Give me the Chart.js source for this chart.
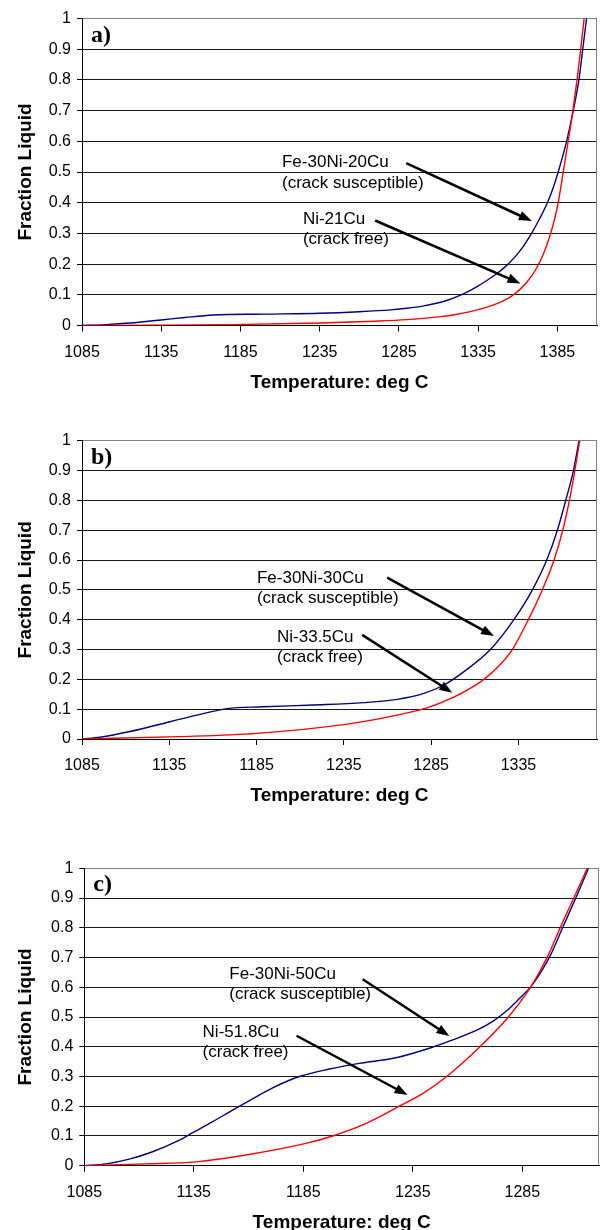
<!DOCTYPE html>
<html><head><meta charset="utf-8">
<script src="https://cdn.jsdelivr.net/npm/chart.js@4/dist/chart.umd.min.js"></script>
<style>
html,body{margin:0;padding:0;background:#fff;overflow:hidden;width:600px;height:1230px;position:relative;}
.panel{position:absolute;left:0;width:600px;}
canvas{display:block;}
</style></head><body>
<div class="panel" style="top:0px"><canvas id="ca" width="600" height="394"></canvas></div>
<div class="panel" style="top:410px"><canvas id="cb" width="600" height="397"></canvas></div>
<div class="panel" style="top:820px"><canvas id="cc" width="600" height="414"></canvas></div>
<script>
// ---------- data ----------
const yTickValues = [0, 0.1, 0.2, 0.3, 0.4, 0.5, 0.6, 0.7, 0.8, 0.9, 1];
const xTicksA = [1085, 1135, 1185, 1235, 1285, 1335, 1385];
const xTicksB = [1085, 1135, 1185, 1235, 1285, 1335];
const xTicksC = [1085, 1135, 1185, 1235, 1285];

// panel a
const tempFeA = [1085, 1100, 1115, 1135, 1150, 1168, 1200, 1235, 1260, 1280, 1290, 1300, 1310, 1316, 1322, 1328, 1334, 1340, 1346, 1352, 1358, 1363.5, 1368.7, 1374, 1378.7, 1382.3, 1385.5, 1390.8, 1395, 1398.6, 1401, 1403.4];
const fracFeA = [0, 0.003, 0.008, 0.018, 0.026, 0.034, 0.037, 0.040, 0.045, 0.051, 0.056, 0.063, 0.074, 0.083, 0.095, 0.109, 0.126, 0.145, 0.166, 0.191, 0.222, 0.258, 0.3, 0.35, 0.4, 0.448, 0.5, 0.6, 0.7, 0.8, 0.9, 1.0];
const tempNiA = [1085, 1130, 1180, 1235, 1270, 1290, 1310, 1320, 1330, 1340, 1348, 1353, 1357, 1361, 1365, 1369, 1372.5, 1375.5, 1378.5, 1381.3, 1383.5, 1385.5, 1388.7, 1391.8, 1394.8, 1397.4, 1399.7, 1401.9];
const fracNiA = [0, 0.001, 0.003, 0.008, 0.014, 0.019, 0.028, 0.035, 0.045, 0.059, 0.074, 0.086, 0.099, 0.116, 0.137, 0.163, 0.193, 0.225, 0.265, 0.31, 0.352, 0.4, 0.5, 0.6, 0.7, 0.8, 0.9, 1.0];

// panel b
const tempFeB = [1085, 1095.3, 1112.5, 1135.5, 1150.8, 1168, 1189, 1217.7, 1246.4, 1265.6, 1280.8, 1292.3, 1303.8, 1319.1, 1332.5, 1343, 1351.2, 1357.3, 1362.1, 1366.5, 1369.7];
const fracFeB = [0, 0.006, 0.025, 0.058, 0.080, 0.102, 0.108, 0.114, 0.122, 0.133, 0.153, 0.181, 0.226, 0.301, 0.401, 0.5, 0.6, 0.7, 0.8, 0.9, 1.0];
const tempNiB = [1085, 1141.2, 1185.2, 1236.9, 1265.6, 1283, 1298, 1308, 1315.2, 1323.8, 1331.5, 1340.7, 1348.7, 1355.4, 1360.4, 1364.2, 1367.3, 1370.1];
const fracNiB = [0, 0.008, 0.019, 0.05, 0.08, 0.105, 0.14, 0.172, 0.2, 0.245, 0.3, 0.4, 0.5, 0.6, 0.7, 0.8, 0.9, 1.0];

// panel c
const tempFeC = [1085, 1094.9, 1105.5, 1116.2, 1128.4, 1134.5, 1143.6, 1152.7, 1161.8, 1171, 1183.2, 1196.9, 1210.6, 1227.3, 1242.5, 1253.2, 1265.4, 1272, 1278, 1283.5, 1289, 1297.5, 1303.6, 1309.7, 1315.2];
const fracFeC = [0, 0.006, 0.022, 0.047, 0.086, 0.111, 0.148, 0.187, 0.225, 0.262, 0.300, 0.325, 0.344, 0.363, 0.395, 0.423, 0.460, 0.488, 0.522, 0.561, 0.603, 0.703, 0.804, 0.905, 1.0];
const tempNiC = [1085, 1113.2, 1136, 1158.8, 1186.2, 1198.4, 1212.1, 1228.8, 1240, 1250.2, 1265.4, 1278.6, 1289, 1296.5, 1302.5, 1308.8, 1314.6];
const fracNiC = [0, 0.006, 0.013, 0.036, 0.075, 0.1, 0.137, 0.2, 0.245, 0.298, 0.398, 0.5, 0.603, 0.703, 0.804, 0.905, 1.0];

const panelLetters = ['a)', 'b)', 'c)'];
const labelsA = [['Fe-30Ni-20Cu', '(crack susceptible)'], ['Ni-21Cu', '(crack free)']];
const labelsB = [['Fe-30Ni-30Cu', '(crack susceptible)'], ['Ni-33.5Cu', '(crack free)']];
const labelsC = [['Fe-30Ni-50Cu', '(crack susceptible)'], ['Ni-51.8Cu', '(crack free)']];
const xTitle = 'Temperature: deg C';
const yTitle = 'Fraction Liquid';

// ---------- layout / annotation placement (data coordinates) ----------
const panels = [
  { id: 'ca', padTop: 18.5, plotBottom: 325.5, left: 82, padRight: 3, xMax: 1410, ticks: xTicksA, letter: panelLetters[0],
    fe: [tempFeA, fracFeA], ni: [tempNiA, fracNiA], labels: labelsA,
    notePos: [[1211.2, 0.516], [1224.4, 0.331]],
    arrows: [[1289.6, 0.529, 1368.9, 0.340], [1270, 0.342, 1361.7, 0.137]] },
  { id: 'cb', padTop: 30.7, plotBottom: 329, left: 82, padRight: 3, xMax: 1380, ticks: xTicksB, letter: panelLetters[1],
    fe: [tempFeB, fracFeB], ni: [tempNiB, fracNiB], labels: labelsB,
    notePos: [[1185.2, 0.524], [1196.7, 0.326]],
    arrows: [[1259.8, 0.541, 1321, 0.345], [1245.5, 0.349, 1297.1, 0.155]] },
  { id: 'cc', padTop: 48.3, plotBottom: 345.7, left: 84.3, padRight: 1, xMax: 1320, ticks: xTicksC, letter: panelLetters[2],
    fe: [tempFeC, fracFeC], ni: [tempNiC, fracNiC], labels: labelsC,
    notePos: [[1151.2, 0.628], [1139, 0.433]],
    arrows: [[1212.1, 0.627, 1251.7, 0.436], [1181.9, 0.437, 1232.6, 0.238]] }
];

const SANS = '"Liberation Sans", Arial, sans-serif';

const decoPlugin = {
  id: 'deco',
  afterDatasetsDraw(chart) {
    const p = chart.options.plugins.deco;
    const { ctx, chartArea: ca, scales: { x, y } } = chart;
    ctx.save();
    // plot-area border (right)
    ctx.strokeStyle = '#808080';
    ctx.lineWidth = 1;
    ctx.beginPath();
    ctx.moveTo(Math.round(ca.right) - 0.5, ca.top);
    ctx.lineTo(Math.round(ca.right) - 0.5, ca.bottom);
    ctx.stroke();
    // panel letter
    ctx.fillStyle = '#000';
    ctx.textAlign = 'left';
    ctx.textBaseline = 'alphabetic';
    ctx.font = 'bold 24px "Liberation Serif", "Times New Roman", serif';
    ctx.fillText(p.letter, ca.left + 9, ca.top + 23);
    // notes
    ctx.font = '17px ' + SANS;
    p.labels.forEach((lines, i) => {
      const px = x.getPixelForValue(p.notePos[i][0]);
      const py = y.getPixelForValue(p.notePos[i][1]);
      lines.forEach((s, k) => ctx.fillText(s, px, py + k * 20.5));
    });
    // arrows
    p.arrows.forEach(a => {
      const x1 = x.getPixelForValue(a[0]), y1 = y.getPixelForValue(a[1]);
      const x2 = x.getPixelForValue(a[2]), y2 = y.getPixelForValue(a[3]);
      const ang = Math.atan2(y2 - y1, x2 - x1);
      const hl = 13, hw = 4.8;
      const bx = x2 - hl * Math.cos(ang), by = y2 - hl * Math.sin(ang);
      ctx.strokeStyle = '#000';
      ctx.lineWidth = 2.5;
      ctx.beginPath();
      ctx.moveTo(x1, y1);
      ctx.lineTo(bx + 2 * Math.cos(ang), by + 2 * Math.sin(ang));
      ctx.stroke();
      ctx.fillStyle = '#000';
      ctx.beginPath();
      ctx.moveTo(x2, y2);
      ctx.lineTo(bx + hw * Math.sin(ang), by - hw * Math.cos(ang));
      ctx.lineTo(bx - hw * Math.sin(ang), by + hw * Math.cos(ang));
      ctx.closePath();
      ctx.fill();
    });
    ctx.restore();
  }
};

panels.forEach(p => {
  const canvas = document.getElementById(p.id);
  const H = canvas.height;
  const xAxisH = H - p.plotBottom;
  const toPts = (t, f) => t.map((v, i) => ({ x: v, y: f[i] }));
  new Chart(canvas, {
    type: 'line',
    data: {
      datasets: [
        { label: p.labels[1][0], data: toPts(p.ni[0], p.ni[1]), borderColor: '#ff0000', borderWidth: 1.4,
          pointRadius: 0, cubicInterpolationMode: 'monotone', fill: false },
        { label: p.labels[0][0], data: toPts(p.fe[0], p.fe[1]), borderColor: '#000080', borderWidth: 1.4,
          pointRadius: 0, cubicInterpolationMode: 'monotone', fill: false }
      ]
    },
    options: {
      responsive: false,
      animation: false,
      devicePixelRatio: 1,
      layout: { padding: { top: p.padTop, right: p.padRight, left: 0, bottom: 0 } },
      plugins: {
        legend: { display: false },
        tooltip: { enabled: false },
        deco: p
      },
      scales: {
        x: {
          type: 'linear',
          min: 1085,
          max: p.xMax,
          afterBuildTicks: s => { s.ticks = p.ticks.map(v => ({ value: v })); },
          afterFit: s => { s.height = xAxisH; },
          ticks: { color: '#000', font: { family: SANS, size: 16 }, padding: 11, maxRotation: 0, autoSkip: false,
                   callback: v => String(v) },
          grid: { display: true, drawOnChartArea: false, drawTicks: true, tickLength: 6, tickColor: '#000', lineWidth: 1 },
          border: { display: true, color: '#000', width: 1 },
          title: { display: true, text: xTitle, color: '#000', font: { family: SANS, size: 19, weight: 'bold' },
                   padding: { top: 0, bottom: 0 } }
        },
        y: {
          type: 'linear',
          min: 0,
          max: 1,
          afterBuildTicks: s => { s.ticks = yTickValues.map(v => ({ value: v })); },
          afterFit: s => { s.width = p.left; },
          ticks: { color: '#000', font: { family: SANS, size: 16 }, padding: 6, autoSkip: false,
                   callback: v => String(Math.round(v * 10) / 10) },
          grid: { color: c => (c.tick && c.tick.value === 1 ? '#808080' : '#1a1a1a'), tickColor: '#000', tickLength: 5, lineWidth: 1 },
          border: { display: true, color: '#000', width: 1 },
          title: { display: true, text: yTitle, color: '#000', font: { family: SANS, size: 19, weight: 'bold' },
                   padding: { top: 14.5, bottom: 0 } }
        }
      }
    },
    plugins: [decoPlugin]
  });
});
</script>
</body></html>
